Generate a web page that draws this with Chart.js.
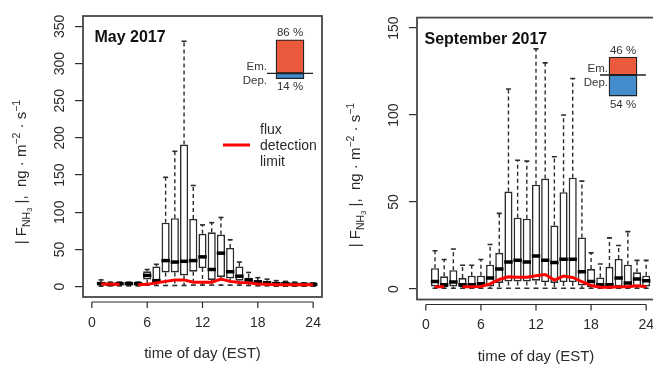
<!DOCTYPE html>
<html><head><meta charset="utf-8">
<script src="https://cdn.jsdelivr.net/npm/chart.js@4"></script>
<style>
html,body{margin:0;padding:0;width:653px;height:367px;overflow:hidden;background:#fff;position:relative;}
canvas{position:absolute;}
</style></head><body>
<canvas id="c1" style="left:0;top:0" width="330" height="367"></canvas>
<canvas id="c2" style="left:330px;top:0" width="330" height="367"></canvas>
<canvas id="i1" style="left:240px;top:25px" width="100" height="80"></canvas>
<canvas id="i2" style="left:573px;top:40px" width="100" height="80"></canvas>
<script>
// ---------- data ----------
const hours = [1,2,3,4,5,6,7,8,9,10,11,12,13,14,15,16,17,18,19,20,21,22,23,24];
const xTicks = [0,6,12,18,24];
const mayYTicks = [0,50,100,150,200,250,300,350];
const sepYTicks = [0,50,100,150];

const mayLow  = [0.5,1,1,1,1,2,1.5,1.5,1.5,1.5,2,2,2,2,2,2,1.5,1,1,0.5,0.5,0.5,0.5,0.5];
const mayQ1   = [2,2,3,3,3,9.5,5,19,19,15,20,25,9,13,11,8,5,3,3,2.5,2,2,2,2];
const mayMed  = [4,3,4,4,4,15,8,35,33,34,35,40,23,45,20,14,9,6,5,4,4,3,3,3];
const mayQ3   = [6,5,5,5,5,20.5,27,86,92,191,91,71,73,70,52,27,12,9,8,6,5,5,4,4];
const mayHigh = [9,6,6,6,6,23,30,147,182,330,136,83,86,93,63,33,19,12,10,8,7,6,5,5];
const mayLimit = [3.5,3,3,null,2.5,3,5,7,9,9,6,6,6,10,7,5.5,5,3.5,3,2.5,2.5,2.5,2.5,2.5];

const sepLow  = [0.5,0.5,0.5,0.5,0.5,0.5,0.5,0.5,0.5,0.5,0.5,0.5,0.5,0.5,0.5,0.5,0.5,0.5,0.5,0.5,0.5,0.5,0.5,0.5];
const sepQ1   = [1.5,1,1.5,1,1,1,1.5,3.5,4.4,4.4,4.4,4.8,4,3.5,4,4,2,1,1,1,1.5,1,1.5,1.5];
const sepMed  = [4.4,2.5,4,2.5,2.5,3,6.3,11.5,15.6,16.6,15.6,19,16.5,15.3,17.2,17.2,10,4.4,2.5,2.5,6.3,3.5,5.8,4.8];
const sepQ3   = [12,7.3,10.8,6.3,7.7,7.7,14,20.8,56,41,40.4,60,63.5,36.5,55.7,64,29.7,11.5,6.7,12.7,17.3,14,9.6,7.7];
const sepHigh = [22,17,23,13.7,13.7,17,25.6,43.5,115,74,73.5,138,130,76,100,121,62,20.8,14.4,29.4,25,33,16.5,16.5];
const sepLimit = [1.3,1.3,null,1.3,1.3,1.5,3,5.5,7,6.8,6.8,7.7,8.4,5.2,7.5,6.7,4.2,2,1,1,1.3,1.3,1.9,1.3];

const shareLabels = ['Em.','Dep.'];
const mayShare = [86,14];
const sepShare = [46,54];
const legendLines = ['flux','detection','limit'];
const xTitle = 'time of day (EST)';

// ---------- style ----------
const FONT = "'Liberation Sans', Arial, Helvetica, sans-serif";
Chart.defaults.font.family = FONT;
const INK = '#2b2b2b';

// y title parts: [text, size, dy]
const yTitleParts = [['| F',15,0],['NH',10.5,3.5],['3',7.5,6],[' |,  ng \u00b7 m',15,0],['\u22122',10.5,-6],[' \u00b7 s',15,0],['\u22121',10.5,-6]];

function drawRich(ctx, parts, cx, cy){
  let total = 0;
  const w = parts.map(p=>{ctx.font=`${p[1]}px ${FONT}`; const m=ctx.measureText(p[0]).width; total+=m; return m;});
  ctx.save(); ctx.translate(cx, cy); ctx.rotate(-Math.PI/2);
  ctx.textAlign='left'; ctx.textBaseline='alphabetic'; ctx.fillStyle=INK;
  let u = -total/2;
  parts.forEach((p,i)=>{ctx.font=`${p[1]}px ${FONT}`; ctx.fillText(p[0], u, p[2]); u+=w[i];});
  ctx.restore();
}

const rPlot = {
  id:'rPlot',
  afterDraw(chart, args, o){
    const {ctx, chartArea:a, scales:{x,y}} = chart;
    ctx.save();
    ctx.strokeStyle = '#484848'; ctx.lineWidth = 1.8;
    ctx.strokeRect(a.left, a.top, a.right-a.left, a.bottom-a.top);
    // x axis (offset, R style)
    const ax = a.bottom + 5;
    ctx.strokeStyle = INK; ctx.lineWidth = 1.2;
    ctx.beginPath();
    const tk = x.ticks.map(t=>t.value);
    ctx.moveTo(x.getPixelForValue(tk[0]), ax); ctx.lineTo(x.getPixelForValue(tk[tk.length-1]), ax);
    tk.forEach(v=>{const px=x.getPixelForValue(v); ctx.moveTo(px,ax); ctx.lineTo(px,ax+6);});
    ctx.stroke();
    ctx.fillStyle = INK; ctx.font = `14px ${FONT}`; ctx.textAlign='center'; ctx.textBaseline='middle';
    tk.forEach(v=>ctx.fillText(String(v), x.getPixelForValue(v), a.bottom+26));
    // y tick labels, rotated
    y.ticks.forEach(t=>{
      ctx.save(); ctx.translate(a.left-23, y.getPixelForValue(t.value)); ctx.rotate(-Math.PI/2);
      ctx.fillText(String(t.value), 0, 0); ctx.restore();
    });
    // axis titles
    ctx.font = `15px ${FONT}`;
    ctx.fillText(xTitle, (a.left+a.right)/2, a.bottom+57);
    drawRich(ctx, yTitleParts, a.left-57, o.yTitleY);
    // panel title
    ctx.font = `bold 16px ${FONT}`; ctx.textAlign='left'; ctx.textBaseline='alphabetic'; ctx.fillStyle='#111';
    ctx.fillText(o.title, a.left + o.titleDx, a.top + 26);
    // legend
    if (o.legend){
      const lx = a.right - 99, ly = a.top + 129;
      ctx.strokeStyle = '#ff0000'; ctx.lineWidth = 3;
      ctx.beginPath(); ctx.moveTo(lx, ly); ctx.lineTo(lx+27, ly); ctx.stroke();
      ctx.fillStyle = INK; ctx.font = `14px ${FONT}`; ctx.textBaseline='middle';
      legendLines.forEach((s,i)=>ctx.fillText(s, lx+37, ly-15+i*16));
    }
    ctx.restore();
  }
};

function whiskers(low,q1,q3,high){
  const pts=[];
  hours.forEach((h,i)=>{pts.push({x:h,y:q3[i]},{x:h,y:high[i]},{x:h,y:null},{x:h,y:q1[i]},{x:h,y:low[i]},{x:h,y:null});});
  return pts;
}

function panel(id, low,q1,med,q3,high,limit, yTicks, ymin, ymax, pad, opts){
  return new Chart(document.getElementById(id), {
    type:'bar',
    data:{datasets:[
      {type:'line', label:'flux detection limit', data:hours.map((h,i)=>({x:h,y:limit[i]})), borderColor:'#ff0000', borderWidth:3, pointRadius:0, spanGaps:false, order:0},
      {type:'scatter', label:'median', data:hours.map((h,i)=>({x:h,y:med[i]})), pointStyle:'line', pointRadius:4.2, pointBorderColor:'#000', pointBorderWidth:3.5, order:1},
      {type:'bar', label:'box', data:hours.map((h,i)=>({x:h,y:[q1[i],q3[i]]})), backgroundColor:'#fff', borderColor:INK, borderWidth:1.6, borderSkipped:false, barPercentage:0.88, categoryPercentage:1, order:2},
      {type:'scatter', label:'caps', data:[...hours.map((h,i)=>({x:h,y:high[i]})), ...hours.map((h,i)=>({x:h,y:low[i]}))], pointStyle:'line', pointRadius:2.5, pointBorderColor:INK, pointBorderWidth:1.6, order:3},
      {type:'line', label:'whiskers', data:whiskers(low,q1,q3,high), borderColor:INK, borderWidth:1.4, borderDash:[4,3], pointRadius:0, spanGaps:false, order:4}
    ]},
    options:{
      responsive:false, animation:false, events:[],
      layout:{padding:pad, autoPadding:false},
      plugins:{legend:{display:false}, tooltip:{enabled:false}, rPlot:opts},
      scales:{
        x:{type:'linear', min:-0.96, max:24.96, offset:false,
           grid:{display:false, offset:false, drawTicks:true, tickLength:10}, border:{display:false},
           ticks:{display:false}, afterBuildTicks:s=>{s.ticks = xTicks.map(v=>({value:v}));}},
        y:{type:'linear', min:ymin, max:ymax,
           grid:{display:true, drawOnChartArea:false, drawTicks:true, tickLength:8, color:INK, lineWidth:1.2}, border:{display:false},
           ticks:{display:false}, afterBuildTicks:s=>{s.ticks = yTicks.map(v=>({value:v}));}}
      }
    },
    plugins:[rPlot]
  });
}

panel('c1', mayLow,mayQ1,mayMed,mayQ3,mayHigh,mayLimit, mayYTicks, -14, 364,
  {left:75,right:8,top:16,bottom:60}, {title:'May 2017', titleDx:11.5, legend:true, yTitleY:172});
panel('c2', sepLow,sepQ1,sepMed,sepQ3,sepHigh,sepLimit, sepYTicks, -6, 156,
  {left:79,right:5,top:17.6,bottom:57.5}, {title:'September 2017', titleDx:7.5, legend:false, yTitleY:175});

// ---------- insets ----------
const insetPlugin = {
  id:'inset',
  afterDatasetsDraw(chart, args, o){
    const {ctx, scales:{y}} = chart;
    const em = chart.getDatasetMeta(0).data[0], dep = chart.getDatasetMeta(1).data[0];
    const z = y.getPixelForValue(0);
    const left = em.x - em.width/2, right = em.x + em.width/2;
    ctx.save();
    ctx.strokeStyle = '#222'; ctx.lineWidth = 1.3;
    ctx.beginPath(); ctx.moveTo(left-9, z); ctx.lineTo(right+9, z); ctx.stroke();
    ctx.fillStyle = '#333'; ctx.font = `11.5px ${FONT}`; ctx.textBaseline='middle';
    ctx.textAlign='center';
    ctx.fillText(o.share[0]+' %', em.x, em.y - 6.5);
    ctx.fillText(o.share[1]+' %', dep.x, dep.y + 8.5);
    ctx.textAlign='right';
    ctx.fillText(shareLabels[0], left - o.labDx, z - 6.5);
    ctx.fillText(shareLabels[1], left - o.labDx, z + 8);
    ctx.restore();
  }
};
function inset(id, share, ymin, ymax, labDx){
  return new Chart(document.getElementById(id), {
    type:'bar',
    data:{labels:[''], datasets:[
      {label:shareLabels[0], data:[share[0]], backgroundColor:'#eb5a3c', borderColor:'#222', borderWidth:1.3, borderSkipped:false, barThickness:28, stack:'s'},
      {label:shareLabels[1], data:[-share[1]], backgroundColor:'#448dcd', borderColor:'#222', borderWidth:1.3, borderSkipped:false, barThickness:28, stack:'s'}
    ]},
    options:{responsive:false, animation:false, events:[], layout:{padding:0},
      plugins:{legend:{display:false}, tooltip:{enabled:false}, inset:{share, labDx}},
      scales:{x:{display:false, stacked:true}, y:{display:false, stacked:true, min:ymin, max:ymax}}},
    plugins:[insetPlugin]
  });
}
inset('i1', mayShare, -81.3, 123.8, 9);
inset('i2', sepShare, -115.4, 89.7, 1);
</script>
</body></html>
